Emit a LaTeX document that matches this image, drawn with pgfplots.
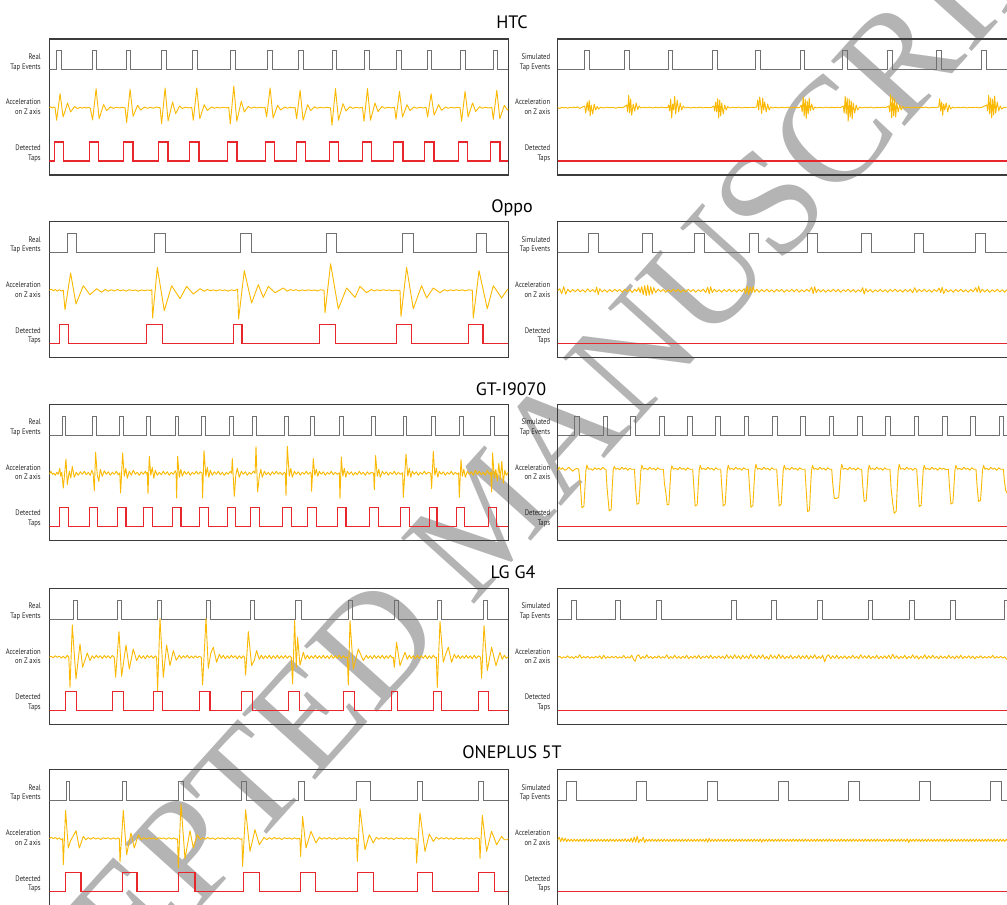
\documentclass[border=0pt]{standalone}
\usepackage{fontspec}
\setmainfont{PT Sans}
\newfontfamily\lblfont[FakeStretch=0.83]{PT Sans}
\newfontfamily\wmfont{Liberation Serif}
\usepackage{pgfplots}
\pgfplotsset{compat=1.18}
\definecolor{frame}{RGB}{60,60,60}
\definecolor{tapgray}{RGB}{112,112,112}
\definecolor{accy}{RGB}{250,184,0}
\definecolor{detred}{RGB}{232,38,44}
\definecolor{wm}{RGB}{180,180,180}
\pgfplotsset{
 panel/.style={width=459pt,height=136pt,scale only axis,xmin=0,xmax=459,ymin=-67,ymax=69,
   xtick=\empty,ytick=\empty,axis line style={draw=frame,line width=1.3pt},anchor=north west},
 tap/.style={const plot mark left,draw=tapgray,line width=1pt,no marks},
 det/.style={const plot mark left,draw=detred,line width=1.1pt,no marks},
 acc/.style={draw=accy,line width=0.9pt,no marks,line join=round},
}
\tikzset{lbl/.style={anchor=east,align=right,font=\lblfont\fontsize{8}{9.7}\selectfont,text=black!85},
 ttl/.style={anchor=base,font=\fontsize{18}{20}\selectfont}}
\begin{document}
\begin{tikzpicture}[x=1pt,y=1pt]
\useasboundingbox (0,0) rectangle (1007,905);
\begin{scope}
\clip (0,0) rectangle (1007,905);
\node[rotate=48,text=wm,font=\wmfont\fontsize{150}{150}\selectfont] at (487,388) {ACCEPTED MANUSCRIPT};
% titles
\node[ttl] at (512,876.7) {HTC};
\node[ttl] at (512,692.3) {Oppo};
\node[ttl] at (511,509.3) {GT-I9070};
\node[ttl] at (513,326) {LG G4};
\node[ttl] at (512,146) {ONEPLUS 5T};
% labels
\foreach \t in {866,683.3,500.7,316.7,135.3}{
 \node[lbl] at (44.3,\t-23.2) {Real\\Tap Events};
 \node[lbl] at (44.3,\t-68) {Acceleration\\on Z axis};
 \node[lbl] at (44.3,\t-114.3) {Detected\\Taps};
 \node[lbl] at (553.7,\t-23.2) {Simulated\\Tap Events};
 \node[lbl] at (553.7,\t-68) {Acceleration\\on Z axis};
 \node[lbl] at (553.7,\t-114.3) {Detected\\Taps};
}
% ---------------- HTC left
\begin{axis}[panel,at={(49.3pt,866pt)}]
\addplot[tap] coordinates {(0,38)(7.3,57)(11.7,38)(43.6,57)(47.4,38)(77.3,57)(81.4,38)(112.3,57)(116.7,38)(143.6,57)(148.1,38)(181.3,57)(185.7,38)(218.3,57)(223.1,38)(248.9,57)(253.7,38)(282.9,57)(287.4,38)(315.3,57)(319.7,38)(347.3,57)(352.1,38)(377.9,57)(382.4,38)(411.3,57)(415.7,38)(443.9,57)(448.4,38)(459,38)};
\addplot[acc] coordinates {(0,0.5)(1.5,1.2)(3,0)(4.5,1)(5.8,0.3)
(7.3,-12.3)(10.8,14.3)(13.8,-9)(18.3,5)(21.3,-4)(25.3,1.5)(28,-0.5)(31,0.6)(33,-0.2)(35,0.8)(37,0)(39,0.7)(41,-0.2)
(43.3,-12)(46.8,19.3)(49.8,-10.7)(54.3,3.3)(57.3,-2.7)(61.3,1.2)(64,-0.4)(67,0.8)(70,0)(73,0.6)(75.8,0.2)
(77.3,-14.7)(80.8,18.7)(83.8,-8.3)(88.3,2.7)(91.3,-2)(95.3,1)(98,-0.3)(101,0.7)(104,-0.2)(107,0.9)(110.8,0.3)
(112.3,-15.7)(115.8,20)(118.8,-13)(123.3,6)(126.3,-5.7)(130.3,2)(133,-0.5)(136,0.8)(139,0.1)(142.5,0.5)
(144,-12.3)(147.5,20)(150.5,-10.7)(155,3.3)(158,-2.5)(162,1)(165,-0.2)(168,0.7)(171,0)(174,0.8)(177,0.1)(179.5,0.6)
(181,-16)(184.5,22)(187.5,-13.3)(192,6.7)(195,-4)(199,1.5)(202,-0.3)(205,0.9)(208,0)(211,0.8)(214,0.2)(215.8,0.5)
(217.3,-9)(220.8,20)(223.8,-10)(228.3,2.7)(231.3,-2)(235.3,1)(238,-0.2)(241,0.7)(244,0.1)(245.8,0.5)
(247.3,-10.7)(250.8,17.7)(253.8,-12.3)(258.3,3.3)(261.3,-2.5)(265.3,1.2)(268,-0.3)(271,0.8)(274,0)(277,0.7)(281.2,0.2)
(282.7,-17.3)(286.2,19.3)(289.2,-12.3)(293.7,4.3)(296.7,-3)(300.7,1.3)(303.5,-0.4)(306.5,0.8)(309.5,0)(313.2,0.6)
(314.7,-13.3)(318.2,19.3)(321.2,-12.3)(325.7,5)(328.7,-3.5)(332.7,1.5)(335.5,-0.3)(338.5,0.8)(341.5,0.1)(345.2,0.6)
(346.7,-11.3)(350.2,16.7)(353.2,-9)(357.7,3.3)(360.7,-2.5)(364.7,1)(367.5,-0.3)(370.5,0.8)(373.5,0)(376.8,0.5)
(378.3,-9)(381.8,14.3)(384.8,-7.3)(389.3,3.3)(392.3,-2.3)(396.3,1)(399,-0.3)(402,0.8)(405,0)(408,0.7)(410.8,0.2)
(412.3,-13.3)(415.8,16.7)(418.8,-9)(423.3,5)(426.3,-3.5)(430.3,1.3)(433,-0.3)(436,0.8)(439,0)(442.5,0.5)
(444,-11.3)(447.5,17.7)(450.5,-10.7)(455,2.7)(458,-2)(459,-1)};
\addplot[det] coordinates {(0,-53)(5.6,-34)(14.1,-53)(40.6,-34)(49.1,-53)(74.6,-34)(83.7,-53)(109.3,-34)(118.7,-53)(140.6,-34)(149.7,-53)(178.6,-34)(187.7,-53)(215.9,-34)(225.1,-53)(246.9,-34)(256.1,-53)(280.3,-34)(289.4,-53)(312.9,-34)(322.1,-53)(344.6,-34)(353.7,-53)(375.6,-34)(384.7,-53)(408.9,-34)(418.1,-53)(441.6,-34)(450.7,-53)(459,-53)};
\end{axis}
% ---------------- HTC right
\begin{axis}[panel,at={(557.7pt,866pt)}]
\addplot[tap] coordinates {(0,38)(26.3,57)(31.7,38)(66.9,57)(71.4,38)(110.6,57)(115.1,38)(154.9,57)(159.7,38)(197.9,57)(202.7,38)(242.3,57)(247.1,38)(284.9,57)(289.4,38)(329.6,57)(334.4,38)(378.9,57)(383.4,38)(423.9,57)(429.1,38)(459,38)};
\addplot[acc] coordinates {(0,0.5)(2,-0.5)(4,0.8)(6,0)(8,0.6)(10,-0.3)(12,0.7)(14,0.2)(16,1)(18,0.2)(20,1.2)(22,-0.5)(24,0.5)
(27,2)(28,-5)(29.5,6)(30.5,-3)(31.5,7.7)(32.5,-8)(33.5,3)(35,-6)(36.5,4)(38,-2)(39.5,1.5)(41,-1)(43,0.8)
(46,0)(49,0.9)(52,0.2)(55,0.8)(58,-0.2)(61,0.7)(64,0.3)(66,0.8)
(69,3)(70,-4)(71,12.7)(72,-5)(73,9)(74,-7.3)(75.5,4)(77,-3)(78.5,5)(80,-1.5)(81.5,2)(83,0)
(86,0.8)(89,0.2)(92,0.9)(95,0)(98,0.7)(101,0.2)(104,0.9)(107,0.3)(110,0.5)
(111,3)(112,-3)(113,9)(114,-10)(115,4)(116,-2)(117,11.7)(118,-6)(119.5,8)(121,-4)(122.5,5)(124,-2)(125.5,2)(127,0)
(130,0.8)(133,0)(136,0.7)(139,0.2)(142,0.9)(145,0.1)(148,0.6)(151,0.3)(154,0.7)
(156,2)(157,-3)(158,6)(159,-4)(160,9.3)(161,-10)(162,8)(163,-8)(164,5)(165.5,-6)(167,3)(168.5,-2)(170,1.5)(172,0)
(175,0.8)(178,0.2)(181,0.9)(184,0)(187,0.6)(190,0.3)(193,0.8)(196,0.5)
(199,1)(200,8)(201,-2)(202,11)(203,3)(204,-5.7)(205,10)(206,-2)(207,6)(208.5,-4)(210,4)(211.5,-2)(213,1)(215,0)
(218,0.7)(221,0.1)(224,0.8)(227,0.2)(230,0.9)(233,0)(236,0.7)(239,0.3)(242,0.5)
(243.5,3)(244.5,-4)(245.5,11)(246.5,-8)(247.5,9)(248.5,-10.7)(249.5,7)(250.5,-6)(251.5,10)(252.5,-3)(254,4)(255.5,-2)(257,1)(259,0)
(262,0.8)(265,0.1)(268,0.9)(271,0.2)(274,0.7)(277,0.3)(280,0.8)(283,0.4)
(285.5,2)(286.5,-5)(287.5,11.7)(288.5,-6)(289.5,10)(290.5,-13.3)(291.5,9)(292.5,-9)(293.5,7)(294.5,-11)(295.5,5)(297,-5)(298.5,3)(300,-2)(302,1)(304,0)
(307,0.8)(310,0.2)(313,0.9)(316,0)(319,0.7)(322,0.3)(325,0.8)(328,0.4)
(331,2)(332,-4)(333,13.3)(334,-10)(335,11)(336,-8)(337,9)(338,-9)(339,5)(340.5,-4)(342,3)(343.5,-2)(345,1.5)(347,0)
(350,0.8)(353,0.1)(356,0.9)(359,0.2)(362,0.7)(365,0.3)(368,0.9)(371,0.1)(374,0.6)(377,0.4)
(381,1)(382,9.3)(383,-3)(384,6)(385,-7.3)(386,4)(387,-2)(388.5,5)(390,-4)(391.5,3)(393,-1)(395,1)(397,0)
(400,0.8)(403,0.2)(406,0.9)(409,0)(412,0.7)(415,0.3)(418,0.8)(421,0.2)(424,0.6)
(429,3)(430,-3)(431,12.7)(432,-6)(433,10)(434,-10)(435,9)(436,-7)(437,12)(438,-5)(439.5,6)(441,-3)(442.5,2)(444,-1)(446,0.5)(449,0.8)(452,0.2)(455,0.5)(459,0.3)};
\addplot[det] coordinates {(0,-53)(459,-53)};
\end{axis}
% ---------------- Oppo left
\begin{axis}[panel,at={(49.3pt,683.3pt)}]
\addplot[tap] coordinates {(0,38)(17.9,57)(27.4,38)(104.9,57)(115.7,38)(191.3,57)(202.4,38)(277.3,57)(287.1,38)(353.6,57)(364.4,38)(427.3,57)(437.4,38)(459,38)};
\addplot[acc] coordinates {(0,0.5)(2,1.5)(4,0)(6,1.2)(8,-0.5)(10,1)(12,-0.3)(14,0.5)
(15.7,-19)(21.3,17.7)(26.7,-13.3)(34,5)(40.7,-4)(47.3,2)(52.3,-1.5)(56,1.3)(59,-0.5)(62,1)(65,-0.3)(68,1.2)(71,0)(74,0.8)(77,-0.5)(80,1)(83,0.2)(86,0.7)(89,-0.4)(92,0.8)(95,0)(98,0.7)(101,0.2)(102.5,1)
(103.3,-27.3)(108,23.3)(115,-20)(122.3,5)(130.7,-8)(137.3,4.3)(144,-3.3)(150.7,2)(155,-0.5)(158,1.2)(161,0)(164,0.8)(167,-0.3)(170,1)(173,0.2)(176,0.7)(179,-0.4)(182,0.9)(185,0)(188.3,1.5)
(189.3,-28.3)(195,20)(202.3,-12.3)(209,6)(214,-6.7)(219,4.3)(225.7,-2)(234,2.7)(238,-0.5)(241,1.2)(244,0.2)(247,1)(250,-0.3)(253,0.8)(256,0)(259,0.9)(262,0.2)(265,0.7)(268,-0.2)(271,0.8)(274.7,0.5)
(275.7,-22.3)(281.3,27)(289,-18.3)(297.3,2.7)(305.7,-6.7)(310.7,4.3)(317.3,-2)(322,1.2)(325,-0.3)(328,0.9)(331,0)(334,1)(337,0.2)(340,0.8)(343,-0.2)(346,0.7)(349,0)(350.7,0.5)
(351.7,-25.7)(357.3,23.3)(364,-18)(372.3,5)(377.3,-7.3)(384,2.7)(390.7,-2)(395,1)(398,-0.3)(401,0.9)(404,0)(407,1)(410,0.2)(413,0.8)(416,-0.2)(419,0.8)(423,0.5)
(424,-27.3)(429.7,20)(438,-18)(444,5)(452.3,-7.3)(458,1)(459,1.5)};
\addplot[det] coordinates {(0,-53)(10.6,-34)(19.4,-53)(97.3,-34)(113.4,-53)(184.6,-34)(192.7,-53)(270.6,-34)(286.1,-53)(347.3,-34)(362.4,-53)(418.9,-34)(433.7,-53)(459,-53)};
\end{axis}
% ---------------- Oppo right
\begin{axis}[panel,at={(557.7pt,683.3pt)}]
\addplot[tap] coordinates {(0,38)(30.3,57)(40.7,38)(84.6,57)(95.1,38)(136.9,57)(146.4,38)(191.3,57)(201.1,38)(249.6,57)(260.1,38)(303.6,57)(314.1,38)(356.3,57)(366.1,38)(417.3,57)(427.4,38)(459,38)};
\addplot[acc] coordinates {(0,0)(2,2)(4,-3)(6,4)(8,-3.5)(10,1.5)(12.5,-1.5)(15,1.2)(17.5,-1)(20,1.5)(22.5,-1.2)(25,1)(27.5,-1.5)(30,1.8)(32.5,-1)(35,1.2)(37.5,-1.5)(39,3.5)(40.5,-4)(42,2)(44.5,-1.2)(47,1)(49.5,-1.5)(52,1.2)(54.5,-1)(57,1.5)(59.5,-0.8)(62,1.2)(64.5,-1.5)(67,1.5)(69.5,-1)(72,1.2)(74.5,-1.8)(77,1.5)(79,-0.8)(81,3)(82.5,-2)(84,4)(85.5,-4)(87,5)(88.5,-5)(90,5.5)(91.5,-4.5)(93,4)(94.5,-3.5)(96,3)(98,-1.8)(100.5,1.5)(103,-1)(105.5,1.3)(108,-1.5)(110.5,1)(113,-1.2)(115.5,1.5)(118,-0.8)(120.5,1.2)(123,-1.5)(125.5,1)(128,-1.2)(130.5,1.5)(133,-1)(135.5,1.2)(138,-1.5)(140.5,1)(143,-0.8)(145.5,1.5)(148,-1.8)(150,3.5)(151.5,-3)(153,4)(154.5,-2)(156.5,1.5)(159,-1.2)(161.5,1)(164,-1.5)(166.5,1.2)(169,-1)(171.5,1.5)(174,-1.2)(176.5,1)(179,-1.5)(181.5,1.2)(184,-0.8)(186.5,2)(188,-3)(189.5,4.5)(191,-4)(192.5,3.5)(194,-2)(195.5,4)(197,-1.5)(199,1.5)(201.5,-1.5)(204,1.2)(206.5,-1)(209,1.5)(211.5,-1.2)(214,1)(216.5,-1.5)(219,1.3)(221.5,-0.8)(224,1.2)(226.5,-1.5)(229,1)(231.5,-1)(234,1.5)(236.5,-1.2)(239,1.3)(241.5,-1.5)(244,1)(246.5,-1.2)(249,1.5)(251.5,-0.8)(254,3.5)(255.5,-3)(257,4)(258.5,-2)(260.5,1.5)(263,-1.2)(265.5,1.2)(268,-1.5)(270.5,1)(273,-1.2)(275.5,1.5)(278,-1)(280.5,1.2)(283,-1.5)(285.5,1)(288,-0.8)(290.5,1.5)(293,-1.2)(295.5,1.2)(298,-1.5)(300.5,1)(303,-1)(305,3)(306.5,-3.5)(308,2)(310,-1.2)(312.5,1.2)(315,-1.5)(317.5,1)(320,-1)(322.5,1.5)(325,-1.2)(327.5,1)(330,-1.5)(332.5,1.2)(335,-0.8)(337.5,1.5)(340,-1.2)(342.5,1)(345,-1.5)(347.5,1.2)(350,-1)(352.5,1.5)(355,-2)(357,3)(359,-1.5)(361.5,1.2)(364,-1)(366.5,1.5)(369,-1.2)(371.5,1)(374,-1.5)(376.5,1.2)(379,-0.8)(381.5,2.5)(383,-2)(384.5,3.5)(386,-3)(388,1.5)(390.5,-1.2)(393,1)(395.5,-1.5)(398,1.2)(400.5,-1)(403,1.5)(405.5,-1.2)(408,1)(410.5,-1.5)(413,1.2)(415.5,-1)(418,3)(419.5,-1.5)(421,4.5)(422.5,-2)(424.5,1.5)(427,-1.2)(429.5,1.2)(432,-1.5)(434.5,1)(437,-1)(439.5,1.5)(442,-1.2)(444.5,1)(447,-1.5)(449.5,1.2)(452,-0.8)(454.5,1)(457,-0.8)(459,0)};
\addplot[det] coordinates {(0,-53)(459,-53)};
\end{axis}
% ---------------- GT left
\begin{axis}[panel,at={(49.3pt,500.7pt)}]
\addplot[tap] coordinates {(0,38)(12.9,57)(15.7,38)(42.9,57)(46.7,38)(70.6,57)(74.4,38)(96.9,57)(100.7,38)(125.9,57)(129.4,38)(152.3,57)(156.1,38)(180.3,57)(184.1,38)(203.6,57)(207.4,38)(235.6,57)(239.4,38)(261.3,57)(265.1,38)(290.3,57)(294.1,38)(322.6,57)(326.4,38)(353.9,57)(357.4,38)(382.3,57)(385.7,38)(410.6,57)(414.1,38)(441.3,57)(444.7,38)(459,38)};
\addplot[acc] coordinates {(0,-1)(1.5,2)(3,-1)(4.5,0)(6,-2)(7.5,1)(9,-1)(10.5,5)(11.5,-3)(12.5,1)
(14,-14.7)(16.7,14.3)(18,-11.3)(20,2)(21.5,-4.7)(23,7)(25,-4)(27,1)(29,-2)(31,1.5)(33,-1)(35,2)(37,-1.5)(39,1)(41,-2)(42.5,3)(43.8,0)
(45,-17.3)(46.3,21)(48,-2)(49.5,-8)(51,4)(53,-3)(55,2.5)(57,-1)(59,1.5)(61,-2)(63,1)(65,-1)(67,2)(69,-1.5)(70.5,0.5)
(71.3,-19.7)(73.3,20.3)(75,-3)(76.5,5)(78,-5)(80,2)(82,-2)(84,3)(86,-1)(88,1)(90,-2)(92,1.5)(94,-1)(96,2)(97.5,-1)(98,1)
(98.7,-20.7)(100,17)(101.5,-2)(103,6)(104.5,-5)(106,3)(108,-2)(110,1)(112,-1.5)(114,2)(116,-1)(118,1.5)(120,-2)(122,1)(124,-1)(126,2.5)(126.8,0)
(127.3,-24.7)(128.3,17)(130,-4)(131.5,4)(133,-3)(135,2)(137,-1)(139,1.5)(141,-2)(143,1)(145,-1)(147,2)(149,-1)(151,1.5)(152.7,0)
(153.3,-24.7)(154.7,22.7)(156.5,-3)(158,6)(159.5,-4)(161,3)(163,-2)(165,1.5)(167,-1)(169,2)(171,-1.5)(173,1)(175,-2)(177,1)(179,-1)(181,2)(182.3,0)
(183,14.7)(185,-23)(186.5,-2)(188,5)(190,-4)(192,2)(194,-1)(196,1.5)(198,-2)(200,1)(202,-1)(204,2)(205.8,0)
(206.7,26.7)(208.3,-18.7)(210,-3)(211.5,4)(213,-4)(215,2)(217,-1.5)(219,1)(221,-2)(223,1.5)(225,-1)(227,2)(229,-1)(231,1)(233,-1.5)(235,1)(236,0)
(236.7,-22.3)(238,27)(240,-3)(241.5,5)(243,-4)(245,2)(247,-1)(249,1.5)(251,-2)(253,1)(255,-1)(257,2)(259,-1)(261,1)(261.8,0)
(262.3,-18)(264,14.7)(265.5,-2)(267,4)(268.5,-3)(270,2)(272,-1)(274,1.5)(276,-2)(278,1)(280,-1)(282,2)(284,-1.5)(286,1)(288,-1)(290,0.5)
(290.7,-25.3)(292,16.3)(293.5,-3)(295,5)(296.5,-4)(298,2)(300,-1)(302,1.5)(304,-2)(306,1)(308,-1.5)(310,2)(312,-1)(314,1)(316,-2)(318,1.5)(320,-1)(322,1)(324.3,0)
(325,-16.3)(326.3,17.7)(328,-3)(329.5,4)(331,-4)(333,2)(335,-1)(337,1.5)(339,-2)(341,1)(343,-1)(345,2)(347,-1.5)(349,1)(351,-1)(353.3,0.5)
(354,-24)(356.7,19.3)(358.5,-3)(360,5)(361.5,-4)(363,2)(365,-1)(367,1.5)(369,-2)(371,1)(373,-1)(375,2)(377,-1)(379,1)(381.5,0)
(382.3,-15.3)(384,22)(385.5,-2)(387,5)(388.5,-4)(390,2)(392,-1)(394,1.5)(396,-2)(398,1)(400,-1)(402,2)(404,-1.5)(406,1)(408,-1)(409.3,0.5)
(410,-24)(411.7,13.7)(413,-3)(414.5,4)(416,-4)(418,2)(420,-1)(422,1.5)(424,-2)(426,3)(428,-1)(430,2)(432,-1.5)(434,1)(436,-2)(438,3)(440,-1)(441.5,1)
(442.3,-18.7)(443.3,20.3)(445,-5)(446.5,4)(448,-8)(449.5,10)(451,-6)(452.5,12)(454,-10)(455.5,3)(457,-2)(459,1)};
\addplot[det] coordinates {(0,-53)(10.6,-34)(19.4,-53)(40.6,-34)(48.4,-53)(67.9,-34)(76.7,-53)(94.6,-34)(103.4,-53)(123.6,-34)(131.7,-53)(150.3,-34)(159.1,-53)(177.9,-34)(186.1,-53)(201.3,-34)(210.1,-53)(233.6,-34)(242.4,-53)(258.6,-34)(267.4,-53)(287.9,-34)(296.7,-53)(320.3,-34)(329.1,-53)(351.3,-34)(360.1,-53)(380.3,-34)(387.7,-53)(406.9,-34)(415.1,-53)(439.6,-34)(447.4,-53)(459,-53)};
\end{axis}
% ---------------- GT right
\begin{axis}[panel,at={(557.7pt,500.7pt)}]
\addplot[tap] coordinates {(0,38)(16.9,57)(21.7,38)(45.3,57)(50.1,38)(72.9,57)(77.7,38)(101.6,57)(106.4,38)(129.6,57)(134.4,38)(157.9,57)(162.7,38)(186.3,57)(191.1,38)(214.6,57)(219.4,38)(242.9,57)(247.7,38)(271.3,57)(276.1,38)(299.6,57)(304.4,38)(327.9,57)(332.7,38)(356.3,57)(361.1,38)(384.6,57)(389.4,38)(412.9,57)(417.7,38)(441.3,57)(446.1,38)(459,38)};
\addplot[acc] coordinates {(0,3)(1.5,6)(3,4)(5,5.5)(7,3)(9,4)(11,6)(13,4)(15,2)(17,4)(19,5)(21,4)
(22.7,-12)(24.2,-34.3)(26.2,-33)(27.2,-15)(28.2,3)(29.2,8.3)(30.7,4)(33,4.5)(35,3)(37,5.5)(39,4)(41,5)(43,3.5)(45,6)(47,4)(48.3,4)
(49.3,-14)(51.5,-37.7)(53.5,-36)(54.5,-15)(55.5,3)(56.5,7)(58,4)(60,5)(62,3.5)(64,6)(66,4)(68,5.5)(70,3)(72,5)(74,4)(76.7,4)
(77.7,-12)(79.2,-31)(81.2,-30)(82.2,-14)(83.2,3)(84.2,8)(85.7,4)(88,5)(90,3.5)(92,6)(94,4)(96,5)(98,3)(100,5.5)(102,4)(105.7,4)
(106.7,-10)(108.2,-20)(109.5,-31.7)(111.2,-31)(112.2,-14)(113.2,3)(114.2,7.5)(115.7,4)(118,5)(120,3.5)(122,6)(124,4)(126,5)(128,3)(130,5.5)(132,4)(135,4)
(136,-12)(137.5,-32.7)(139.5,-31.5)(140.5,-14)(141.5,3)(142.5,8)(144,4)(146,5)(148,3.5)(150,6)(152,4)(154,5)(156,3)(158,5.5)(160,4)(163,4)
(164,-12)(165.5,-32.7)(167.5,-31)(168.5,-14)(169.5,3)(170.5,8)(172,4)(174,5)(176,3.5)(178,6)(180,4)(182,5)(184,3)(186,5.5)(188,4)(190.7,4)
(191.7,-12)(193.2,-34)(195.2,-32)(196.2,-14)(197.2,3)(198.2,9)(199.7,4)(202,5)(204,3.5)(206,6)(208,4)(210,5)(212,3)(214,5.5)(216,4)(219,4)
(220,-12)(221.5,-32.7)(223.5,-31)(224.5,-14)(225.5,3)(226.5,8)(228,4)(230,5)(232,3.5)(234,6)(236,4)(238,5)(240,3)(242,5.5)(244,4)(247.3,4)
(248.3,-14)(249.8,-38.3)(251.8,-37)(252.8,-15)(253.8,3)(254.8,8)(256.3,4)(258,5)(260,3.5)(262,6)(264,4)(266,5)(268,3)(270,5.5)(272,4)(274,4)
(275,-10)(276.5,-25)(279,-25)(281,-24)(282,-12)(283,3)(284,9)(285.5,4)(288,5)(290,3.5)(292,6)(294,4)(296,5)(298,3)(300,5.5)(302,4)(304,4)
(305,-12)(306.5,-28.3)(308.5,-27)(309.5,-13)(310.5,3)(311.5,8)(313,4)(315,5)(317,3.5)(319,6)(321,4)(323,5)(325,3)(327,5.5)(329,4)(332.3,4)
(333.3,-14)(335,-30)(336.5,-40)(338.5,-38)(339.5,-15)(340.5,3)(341.5,9)(343,4)(345,5)(347,3.5)(349,6)(351,4)(353,5)(355,3)(357,5)(359,4)
(360,-12)(361.5,-33.3)(363.5,-32)(364.5,-14)(365.5,3)(366.5,8)(368,4)(370,5)(372,3.5)(374,6)(376,4)(378,5)(380,3)(382,5.5)(384,4)(386,5)(388,3.5)(390.7,4)
(391.7,-12)(393.2,-30.7)(395.2,-29.5)(396.2,-14)(397.2,3)(398.2,8)(399.7,4)(402,5)(404,3.5)(406,6)(408,4)(410,5)(412,3)(414,5.5)(416,4)(418.3,4)
(419.3,-12)(420.8,-28.3)(422.8,-27)(423.8,-13)(424.8,3)(425.8,8)(427.3,4)(429,5)(431,3.5)(433,6)(435,4)(437,5)(439,3)(441,5.5)(443,4)(445.7,4)
(446.7,-8)(448,-17)(449.5,-20)(452,-22)};
\addplot[det] coordinates {(0,-53)(459,-53)};
\end{axis}
% ---------------- LG left
\begin{axis}[panel,at={(49.3pt,316.7pt)}]
\addplot[tap] coordinates {(0,38)(23.9,57)(27.7,38)(68.6,57)(72.4,38)(107.9,57)(111.7,38)(156.9,57)(160.7,38)(201.3,57)(205.1,38)(246.3,57)(252.1,38)(299.6,57)(303.4,38)(345.6,57)(349.1,38)(388.6,57)(392.4,38)(433.9,57)(437.7,38)(459,38)};
\addplot[acc] coordinates {(0,0)(2,1)(4,-0.5)(6,1.5)(8,0)(10,1.2)(12,-0.8)(14,1)(16,-1)(18,2)(19.5,0)
(20.7,-30)(23,32.3)(26.7,-21.7)(30.7,13.3)(33.3,-10)(38,4.3)(40.7,-3.3)(43,1.5)(45,-1)(47,2)(49,-0.5)(51,1.5)(53,-1.2)(55,1.8)(57,-0.5)(59,1.5)(61,-1)(63,1.8)(65,0)
(66.3,-20)(69.7,25.7)(72.3,-19)(76.7,12.3)(80,-11.7)(84,8.3)(87.3,-3.3)(90,2)(92,-1)(94,1.5)(96,-1.5)(98,2)(100,-0.5)(102,1.5)(104,-1)(106,1.5)(107.3,0)
(108.3,-33.3)(110.7,39)(114,-20)(117.3,12.3)(120.7,-8.3)(124,6.7)(127,-3)(130,2)(132,-1)(134,1.5)(136,-0.5)(138,2)(140,-1)(142,1.2)(144,-0.8)(146,1.5)(148,-0.5)(150,1)(152,0)
(153.3,-27.7)(156.7,39)(159,-11)(161.5,4)(164,10)(167.3,-5)(170,3)(172,-1)(174,2)(176,-1.5)(178,1.5)(180,-1)(182,2)(184,-0.5)(186,1.5)(188,-1.5)(190,1.5)(192,-1)(194,1.5)(195.3,0)
(196.3,-17.7)(199,25.7)(202.3,-8.3)(205,-3)(207.3,6.7)(210,-2)(212,2)(214,-1.5)(216,1.5)(218,-1)(220,2)(222,-1.5)(224,1.5)(226,-1)(228,2)(230,-1.2)(232,1.5)(234,-1)(236,1.8)(238,-1)(240,1.5)(242,0)
(243.3,-26.7)(245.3,36.7)(247,-10)(248.3,20)(250.7,-8)(254,5)(256,-2)(258,2)(260,-1.5)(262,1.5)(264,-1)(266,2)(268,-1.2)(270,1.5)(272,-1)(274,2)(276,-1)(278,1.5)(280,-1.5)(282,2)(284,-1)(286,1.5)(288,-1)(290,2)(292,-1)(294,1.5)(296,-0.5)(298,0.5)
(299,-27.7)(300.7,36.7)(304,-11.7)(309,8.3)(314,-3.3)(317,2)(319,-1)(321,1.5)(323,-1.5)(325,2)(327,-1)(329,1.5)(331,-1)(333,2)(335,-1.5)(337,1.5)(339,-1)(341,2)(343,-0.5)(344,0)
(345,-10)(347.3,15)(350.7,-8.3)(355.7,5)(358,-2)(360,2)(362,-1)(364,1.5)(366,-1.5)(368,2)(370,-1)(372,1.5)(374,-1)(376,2)(378,-1.5)(380,1.5)(382,-1)(384,2)(386,-0.5)(387,0)
(388,-30)(390.7,35.7)(394,-5)(396,2)(399,10)(402.3,-5)(405,3)(407,-1)(409,2)(411,-1.5)(413,1.5)(415,-1)(417,2)(419,-1)(421,1.5)(423,-1.5)(425,2)(427,-1)(429,1.5)(431.3,0)
(432.3,-21)(434.7,31.7)(438,-13.3)(442.3,10)(446.7,-8.3)(450.7,5)(453,-2)(455,2)(457,-1)(459,0.5)};
\addplot[det] coordinates {(0,-53)(16.3,-34)(27.4,-53)(63.6,-34)(74.1,-53)(103.9,-34)(113.4,-53)(150.3,-34)(160.7,-53)(192.3,-34)(203.4,-53)(238.9,-34)(250.1,-53)(294.6,-34)(305.1,-53)(342.3,-34)(348.4,-53)(383.9,-34)(392.4,-53)(428.9,-34)(439.4,-53)(459,-53)};
\end{axis}
% ---------------- LG right
\begin{axis}[panel,at={(557.7pt,316.7pt)}]
\addplot[tap] coordinates {(0,38)(13.9,57)(19.1,38)(57.3,57)(62.4,38)(98.6,57)(103.4,38)(173.6,57)(178.4,38)(213.9,57)(219.1,38)(259.6,57)(264.4,38)(310.6,57)(315.1,38)(351.9,57)(356.7,38)(392.9,57)(397.4,38)(446.3,57)(452,38)(459,38)};
\addplot[acc] coordinates {(0,0)(2,1)(4,-1)(6,0.5)(8,-0.5)(10,1.5)(12,-0.8)(14,0.7)(16,-1.2)(18,1)(20,-0.5)(22,2.5)(24,-1)(26,0.8)(28,-0.6)(30,1.2)(32,-1)(34,0.5)(36,-0.8)(38,1)(40,-0.5)(42,1.5)(44,-1.5)(46,2)(48,-1)(50,0.7)(52,-0.8)(54,1)(56,-0.6)(58,1.2)(60,-1)(62,0.5)(64,-0.7)(66,1.8)(68,-1)(70,0.6)(72,-0.8)(74,2)(76,-2.5)(77.5,-4)(79,1)(81,2.5)(83,-1.5)(85,0.8)(87,-1)(89,2.5)(91,-0.8)(93,1)(95,-1.2)(97,0.8)(99,-0.7)(101,1.5)(103,-1)(105,0.6)(107,-0.8)(109,2.5)(111,-1.2)(113,0.8)(115,-1)(117,2)(119,-1)(121,0.8)(123,-1.2)(125,1)(127,-0.8)(129,2)(131,-1.5)(133,1)(135,-0.8)(137,1.5)(139,-1)(141,2)(143,-1.5)(145,1)(147,-0.5)(149,1.5)(151,-1)(153,2)(155,-1.2)(157,1)(159,-0.8)(161,1.5)(163,-1)(165,1.2)(167,-1.5)(169,2.5)(171,-1)(173,1.5)(175,-1.5)(177,2.5)(179,-1)(181,1.5)(183,-1.8)(185,2)(187,-1)(189,1.5)(191,-1.5)(193,3)(195,-1)(197,1.5)(199,-1.5)(201,2)(203,-1)(205,2.5)(207,-1.5)(209,1)(211,-2)(213,2.5)(215,-1)(217,1.5)(219,-1.5)(221,3)(223,-1)(225,1.8)(227,-1.5)(229,1)(231,-1)(233,2)(235,-1.5)(237,1)(239,-1)(241,2)(243,-1.5)(245,1.5)(247,-1)(249,2)(251,-1.8)(253,1.5)(255,-1)(257,2.5)(259,-1.5)(261,1)(263,-1.2)(265,2)(267,-4.5)(269,1)(271,2.5)(273,-1.5)(275,1.5)(277,-1)(279,2)(281,-1.5)(283,1)(285,-1)(287,1.5)(289,-1.5)(291,1)(293,-1)(295,2)(297,-1)(299,1)(301,-1.5)(303,2.5)(305,-1)(307,1.5)(309,-1)(311,1.8)(313,-1.5)(315,1)(317,-1)(319,2)(321,-1.5)(323,1)(325,-1)(327,1.5)(329,-1.2)(331,2)(333,-1.5)(335,3)(337,-1)(339,1.5)(341,-1.5)(343,1)(345,-1)(347,2)(349,-1.5)(351,1)(353,-1)(355,2.5)(357,-1)(359,1.5)(361,-1.8)(363,1)(365,-1)(367,2.5)(369,-1.5)(371,1.5)(373,-1)(375,2)(377,-1)(379,1)(381,-1.5)(383,1.5)(385,-1)(387,1)(389,-1.2)(391,2)(393,-1)(395,1)(397,-1.5)(399,1.5)(401,-1)(403,2)(405,-1.2)(407,1)(409,-0.8)(411,1.5)(413,-1)(415,1.2)(417,-1.5)(419,0.8)(421,-0.6)(423,1.5)(425,-1)(427,0.8)(429,-0.8)(431,1)(433,-0.6)(435,2)(437,-1)(439,0.8)(441,-0.6)(443,1)(445,-0.8)(447,0.5)(449,-2)(451,0)};
\addplot[det] coordinates {(0,-53)(459,-53)};
\end{axis}
% ---------------- ONEPLUS left
\begin{axis}[panel,at={(49.3pt,135.3pt)}]
\addplot[tap] coordinates {(0,38)(16.9,57)(20.1,38)(72.9,57)(76.7,38)(128.9,57)(134.4,38)(191.9,57)(196.7,38)(248.9,57)(255.1,38)(307.3,57)(321.1,38)(367.9,57)(373.4,38)(429.6,57)(434.4,38)(459,38)};
\addplot[acc] coordinates {(0,0)(2,1.5)(4,0)(6,1.2)(8,-0.5)(10,1)(12,-1)(13.3,0)
(14,-26)(16.3,28.3)(19,-9.3)(21.3,-2)(23.5,2)(26.7,8)(30,-9.3)(34,2.3)(36.5,-1)(39,1)(41.5,-0.5)(44,1.2)(46.5,-0.3)(49,0.8)(51.5,-0.8)(54,1)(56.5,0)(59,1)(61.5,-0.5)(64,0.8)(66.5,-0.3)(69,0.8)(70,0)
(70.7,-23.3)(74,28.3)(77.3,-16)(81.7,5.7)(85,-9.3)(89,4)(92,-1)(94.5,1)(97,-0.5)(99.5,1)(102,-0.3)(104.5,0.8)(107,-0.8)(109.5,1)(112,0)(114.5,0.8)(117,-0.5)(119.5,1)(122,-0.3)(124.5,0.8)(127,-0.5)(128.3,0)
(129,-29.3)(131.7,34.7)(135.7,-20)(140.7,8)(144,-9.3)(148,4)(151,-1)(153.5,1)(156,-0.5)(158.5,1.2)(161,-0.3)(163.5,0.8)(166,-0.8)(168.5,1)(171,0)(173.5,0.8)(176,-0.5)(178.5,1)(181,-0.3)(183.5,0.8)(186,-0.5)(188.5,1)(191,-0.5)(192.6,0)
(193.3,-27.7)(196.3,29)(200.7,-12.7)(205.7,9)(210,-6)(214.7,1.3)(217.5,-1)(220,1)(222.5,-0.5)(225,1.2)(227.5,-0.3)(230,0.8)(232.5,-0.8)(235,1)(237.5,0)(240,0.8)(242.5,-0.5)(245,1)(247.5,-0.3)(250,0.5)(250.6,0)
(251.3,-17.7)(253.3,22.3)(256.7,-9.3)(261.7,7.3)(266.7,-4.3)(270,1.5)(272.5,-0.5)(275,1)(277.5,-0.3)(280,1.2)(282.5,-0.5)(285,0.8)(287.5,-0.8)(290,1)(292.5,0)(295,0.8)(297.5,-0.5)(300,1)(302.5,-0.3)(305,0.8)(307.3,0)
(308,-22.7)(310.7,30)(315.7,-11)(320,4)(324,-4.3)(327,1.5)(329.5,-0.5)(332,1)(334.5,-0.3)(337,1.2)(339.5,-0.5)(342,0.8)(344.5,-0.8)(347,1)(349.5,0)(352,0.8)(354.5,-0.5)(357,1)(359.5,-0.3)(362,0.8)(364.5,-0.5)(366.6,0)
(367.3,-24.3)(370.7,25.7)(375.7,-12.7)(380,4.7)(384,-2.7)(387,1.5)(389.5,-0.5)(392,1)(394.5,-0.3)(397,1.2)(399.5,-0.5)(402,0.8)(404.5,-0.8)(407,1)(409.5,0)(412,0.8)(414.5,-0.5)(417,1)(419.5,-0.3)(422,0.8)(424.5,-0.5)(427,1)(430,0)
(430.7,-20)(433,23.3)(437.3,-12.7)(442.3,7.3)(447.3,-6)(452.3,2.3)(455,-1)(458,-1)(459,0)};
\addplot[det] coordinates {(0,-53)(16.3,-34)(31.7,-53)(72.9,-34)(87.7,-53)(129.6,-34)(145.7,-53)(194.6,-34)(210.1,-53)(251.3,-34)(266.1,-53)(308.6,-34)(324.4,-53)(368.6,-34)(383.4,-53)(429.6,-34)(445.1,-53)(459,-53)};
\end{axis}
% ---------------- ONEPLUS right
\begin{axis}[panel,at={(557.7pt,135.3pt)}]
\addplot[tap] coordinates {(0,38)(8.6,57)(18.4,38)(78.9,57)(89.1,38)(149.6,57)(160.1,38)(220.3,57)(230.7,38)(290.9,57)(301.7,38)(361.3,57)(372.4,38)(432.3,57)(443.4,38)(459,38)};
\addplot[acc] coordinates {(0,-1)(1.5,1.5)(3,-3)(4.5,1)(6,-2.5)(7.5,0.5)(9,-3)(10.5,-0.3)(12,-2.5)(13.5,-0.5)(15,-2.8)(16.5,-0.3)(18,-2.5)(19.5,-0.6)(21,-2.8)(22.5,-0.4)(24,-2.6)(25.5,-0.5)(27,-2.9)(28.5,-0.3)(30,-2.5)(31.5,-0.7)(33,-2.8)(34.5,-0.4)(36,-2.6)(37.5,-0.5)(39,-2.8)(40.5,-0.3)(42,-2.5)(43.5,-0.6)(45,-2.8)(46.5,-0.4)(48,-2.7)(49.5,-0.5)(51,-2.9)(52.5,-0.3)(54,-2.5)(55.5,-0.6)(57,-2.8)(58.5,-0.4)(60,-2.6)(61.5,-0.5)(63,-2.8)(64.5,-0.3)(66,-2.5)(67.5,0)(69,-3)(70.5,-0.4)(72,-2.8)(73.5,0.5)(75,-3.5)(76.5,1.5)(78,-3.5)(79.5,2.5)(81,-4)(82.5,-0.5)(84,-2.5)(85.5,1.5)(87,-4)(88.5,-0.5)(90,-2.6)(91.5,-0.5)(93,-2.8)(94.5,-0.3)(96,-2.5)(97.5,-0.6)(99,-2.8)(100.5,-0.4)(102,-2.6)(103.5,-0.5)(105,-2.8)(106.5,-0.3)(108,-2.5)(109.5,-0.6)(111,-2.8)(112.5,-0.4)(114,-2.7)(115.5,-0.5)(117,-2.9)(118.5,-0.3)(120,-2.5)(121.5,-0.6)(123,-2.8)(124.5,-0.4)(126,-2.6)(127.5,-0.5)(129,-2.8)(130.5,-0.3)(132,-2.5)(133.5,-0.6)(135,-2.8)(136.5,-0.4)(138,-2.6)(139.5,-0.5)(141,-2.8)(142.5,-0.3)(144,-2.5)(145.5,-0.6)(147,-2.8)(148.5,0)(150,-3.5)(151.5,0.3)(153,-2.8)(154.5,-0.5)(156,-2.6)(157.5,-0.4)(159,-2.8)(160.5,-0.3)(162,-2.5)(163.5,-0.6)(165,-2.8)(166.5,-0.4)(168,-2.6)(169.5,-0.5)(171,-2.8)(172.5,-0.3)(174,-2.5)(175.5,-0.6)(177,-2.8)(178.5,-0.4)(180,-2.6)(181.5,-0.5)(183,-2.8)(184.5,-0.3)(186,-2.5)(187.5,-0.6)(189,-2.8)(190.5,-0.4)(192,-2.6)(193.5,-0.5)(195,-2.8)(196.5,-0.3)(198,-2.5)(199.5,-0.6)(201,-2.8)(202.5,0)(204,-3.5)(205.5,-0.4)(207,-2.6)(208.5,-0.5)(210,-2.8)(211.5,-0.3)(213,-2.5)(214.5,-0.6)(216,-2.8)(217.5,-0.4)(219,-2.6)(220.5,-0.5)(222,-2.8)(223.5,-0.3)(225,-2.5)(226.5,-0.6)(228,-2.8)(229.5,-0.4)(231,-2.6)(232.5,-0.5)(234,-2.8)(235.5,-0.3)(237,-2.5)(238.5,-0.6)(240,-2.8)(241.5,-0.4)(243,-2.6)(244.5,-0.5)(246,-2.8)(247.5,-0.3)(249,-2.5)(250.5,-0.6)(252,-2.8)(253.5,-0.4)(255,-2.6)(256.5,-0.5)(258,-2.8)(259.5,-0.3)(261,-2.5)(262.5,-0.6)(264,-2.8)(265.5,-0.4)(267,-2.6)(268.5,-0.5)(270,-2.8)(271.5,-0.3)(273,-2.5)(274.5,-0.6)(276,-2.8)(277.5,-0.4)(279,-2.6)(280.5,-0.5)(282,-2.8)(283.5,-0.3)(285,-2.5)(286.5,-0.6)(288,-2.8)(289.5,-0.4)(291,-2.6)(292.5,-0.5)(294,-2.8)(295.5,-0.3)(297,-2.5)(298.5,-0.6)(300,-2.8)(301.5,-0.4)(303,-2.6)(304.5,-0.5)(306,-2.8)(307.5,-0.3)(309,-2.5)(310.5,-0.6)(312,-2.8)(313.5,-0.4)(315,-2.6)(316.5,-0.5)(318,-2.8)(319.5,-0.3)(321,-2.5)(322.5,-0.6)(324,-2.8)(325.5,-0.4)(327,-2.6)(328.5,-0.5)(330,-2.8)(331.5,-0.3)(333,-2.5)(334.5,-0.6)(336,-2.8)(337.5,-0.4)(339,-2.6)(340.5,-0.5)(342,-2.8)(343.5,-0.3)(345,-2.5)(346.5,-0.6)(348,-2.8)(349.5,0)(351,-3.8)(352.5,-0.4)(354,-2.6)(355.5,-0.5)(357,-2.8)(358.5,-0.3)(360,-2.5)(361.5,-0.6)(363,-2.8)(364.5,-0.4)(366,-2.6)(367.5,-0.5)(369,-2.8)(370.5,-0.3)(372,-2.5)(373.5,-0.6)(375,-2.8)(376.5,-0.4)(378,-2.6)(379.5,-0.5)(381,-2.8)(382.5,-0.3)(384,-2.5)(385.5,-0.6)(387,-2.8)(388.5,-0.4)(390,-2.6)(391.5,-0.5)(393,-2.8)(394.5,-0.3)(396,-2.5)(397.5,-0.6)(399,-2.8)(400.5,-0.4)(402,-2.6)(403.5,-0.5)(405,-2.8)(406.5,-0.3)(408,-2.5)(409.5,-0.6)(411,-2.8)(412.5,-0.4)(414,-2.6)(415.5,-0.5)(417,-2.8)(418.5,-0.3)(420,-2.5)(421.5,-0.6)(423,-2.8)(424.5,-0.4)(426,-2.6)(427.5,-0.5)(429,-2.8)(430.5,-0.3)(432,-2.5)(433.5,-0.6)(435,-2.8)(436.5,-0.4)(438,-2.6)(439.5,-0.5)(441,-2.8)(442.5,-0.3)(444,-2.5)(445.5,-0.6)(447,-2.8)(448.5,-0.4)(450,-2.6)(451.5,-1)};
\addplot[det] coordinates {(0,-53)(459,-53)};
\end{axis}
\end{scope}
\end{tikzpicture}
\end{document}
